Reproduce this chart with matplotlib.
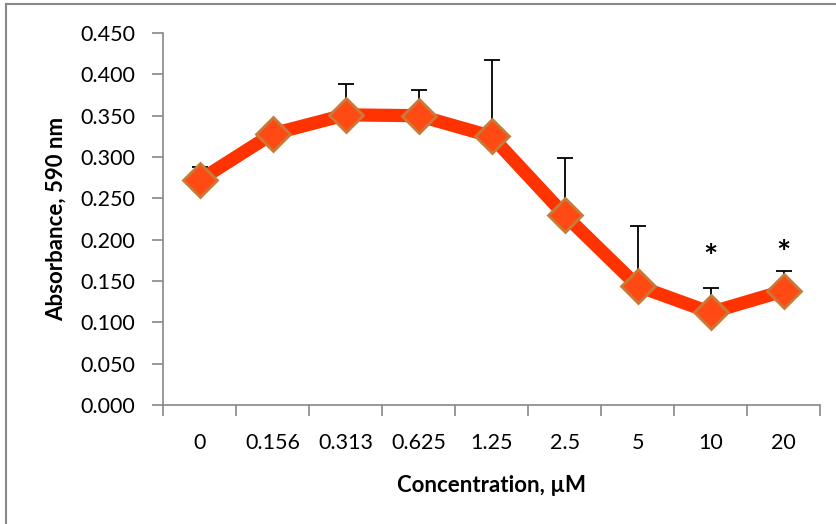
import matplotlib
matplotlib.use("Agg")
import matplotlib.pyplot as plt
from matplotlib.lines import Line2D
import numpy as np

categories = ["0", "0.156", "0.313", "0.625", "1.25", "2.5", "5", "10", "20"]
absorbance = [0.272, 0.328, 0.351, 0.350, 0.325, 0.230, 0.144, 0.112, 0.138]
err_upper = [0.016, 0.005, 0.037, 0.031, 0.092, 0.069, 0.072, 0.029, 0.024]
significant = [False, False, False, False, False, False, False, True, True]
star_y = [None, None, None, None, None, None, None, 0.177, 0.182]

plt.rcParams['font.family'] = ['Lato', 'DejaVu Sans']

fig = plt.figure(figsize=(8.36, 5.24), dpi=100)
ax = fig.add_axes([0.195, 0.227, 0.786, 0.710])

x = np.arange(len(categories))
ax.errorbar(x, absorbance, yerr=[np.zeros(len(x)), err_upper], fmt='none',
            ecolor='black', elinewidth=1.3, capsize=5.5, capthick=1.3, zorder=2)
ax.plot(x, absorbance, color='#FF3300', lw=9.5, solid_joinstyle='round', zorder=3)
ax.plot(x, absorbance, linestyle='none', marker='D', markersize=17.5,
        markerfacecolor='#FF4A14', markeredgecolor='#C87A38', markeredgewidth=2.0, zorder=4)

for xi, s, sy in zip(x, significant, star_y):
    if s:
        ax.text(xi, sy, '*', ha='center', va='center', fontsize=24, fontweight='bold', color='black')

ax.set_xlim(-0.5, len(categories) - 0.5)
ax.set_ylim(0, 0.45)
ax.set_yticks(np.arange(0, 0.451, 0.05))
ax.set_yticklabels([f"{v:.3f}" for v in np.arange(0, 0.451, 0.05)])
ax.set_xticks(x)
ax.set_xticklabels(categories)
ax.set_xticks(np.arange(-0.5, len(categories), 1.0), minor=True)
ax.tick_params(axis='x', which='major', length=0, pad=20, labelsize=15.5)
ax.tick_params(axis='x', which='minor', length=8, color='#888888', width=1.2)
ax.tick_params(axis='y', which='major', length=8, color='#888888', width=1.2, labelsize=15.5, pad=12)

for s in ['top', 'right']:
    ax.spines[s].set_visible(False)
for s in ['left', 'bottom']:
    ax.spines[s].set_color('#888888')
    ax.spines[s].set_linewidth(1.2)

ax.set_xlabel('Concentration, µM', fontsize=16, fontweight='bold', labelpad=16)
ax.set_ylabel('Absorbance, 590 nm', fontsize=16, fontweight='bold', labelpad=10)

# outer frame (top and left edges)
fig.add_artist(Line2D([5.5/836, 1.0], [1 - 3.5/524, 1 - 3.5/524], color='#888888', lw=1.5,
                      transform=fig.transFigure))
fig.add_artist(Line2D([5.5/836, 5.5/836], [0, 1 - 3.5/524], color='#888888', lw=1.5,
                      transform=fig.transFigure))

fig.savefig('out.png', dpi=100)
